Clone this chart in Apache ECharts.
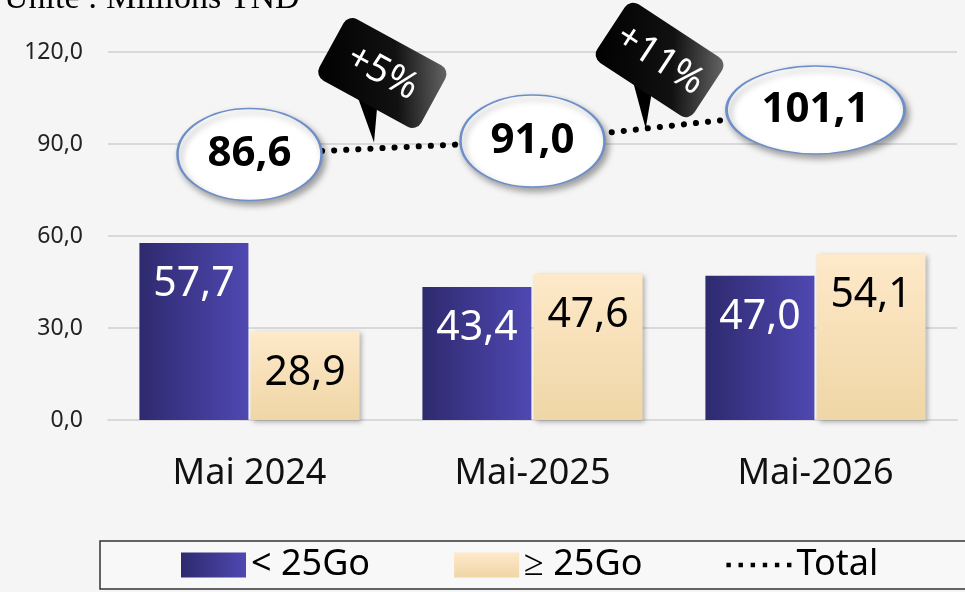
<!DOCTYPE html>
<html>
<head>
<meta charset="utf-8">
<script src="https://cdn.jsdelivr.net/npm/echarts@6/dist/echarts.min.js"></script>
<style>
  html, body { margin: 0; padding: 0; background: #f5f5f5; }
  #main { width: 965px; height: 592px; }
</style>
</head>
<body>
<div id="main"></div>
<script>
// data
const categories = ['Mai 2024', 'Mai-2025', 'Mai-2026']
const smallPlans = [57.7, 43.4, 47.0]
const largePlans = [28.9, 47.6, 54.1]
const totals = [86.6, 91.0, 101.1]
const yTicks = [0, 30, 60, 90, 120]
const seriesNames = ['< 25Go', '≥ 25Go', 'Total']

const fmt = v => v.toFixed(1).replace('.', ',')
const growth = totals.slice(1).map((t, i) => '+' + Math.round((t / totals[i] - 1) * 100) + '%')

const font = 'Noto Sans'
const dots = 'path://M0,0h4v4h-4zM11,0h4v4h-4zM22,0h4v4h-4zM33,0h4v4h-4zM44,0h4v4h-4zM55,0h4v4h-4z'

const chart = echarts.init(document.getElementById('main'))

const option = {
  backgroundColor: '#f5f5f5',
  animation: false,
  grid: { left: 108, right: 8, top: 52, bottom: 172 },
  xAxis: {
    type: 'category',
    data: categories,
    axisTick: { show: false },
    axisLine: { lineStyle: { color: '#d9d9d9', width: 2 } },
    axisLabel: { fontFamily: font, fontSize: 36, color: '#111', margin: 36 }
  },
  yAxis: {
    type: 'value',
    min: yTicks[0],
    max: yTicks[yTicks.length - 1],
    interval: yTicks[1] - yTicks[0],
    axisLabel: { fontFamily: font, fontSize: 23, color: '#222', margin: 25, formatter: v => fmt(v) },
    splitLine: { lineStyle: { color: '#d9d9d9', width: 2 } }
  },
  legend: {
    left: 100,
    top: 541,
    width: 1000,
    data: [
      { name: seriesNames[0], icon: 'rect' },
      { name: seriesNames[1], icon: 'rect' },
      { name: seriesNames[2], icon: dots, itemStyle: { color: '#000', borderWidth: 0, shadowBlur: 0 } }
    ],
    itemWidth: 65,
    itemHeight: 25,
    itemGap: 84,
    padding: [6, 110, 6, 81],
    borderColor: '#333',
    borderWidth: 1.5,
    borderRadius: 0,
    backgroundColor: '#f8f8f8',
    selectedMode: false,
    textStyle: { fontFamily: font, fontSize: 36, color: '#000', lineHeight: 36 }
  },
  series: [
    {
      name: seriesNames[0],
      type: 'bar',
      data: smallPlans,
      barWidth: 109,
      barGap: '2%',
      itemStyle: {
        color: new echarts.graphic.LinearGradient(0, 0, 1, 0, [
          { offset: 0, color: '#2e2a6e' },
          { offset: 1, color: '#4f48b2' }
        ])
      },
      label: {
        show: true, position: 'insideTop', distance: 21,
        fontFamily: font, fontSize: 41, color: '#fff', formatter: p => fmt(p.value)
      }
    },
    {
      name: seriesNames[1],
      type: 'bar',
      data: largePlans,
      barWidth: 109,
      itemStyle: {
        color: new echarts.graphic.LinearGradient(0, 0, 0, 1, [
          { offset: 0, color: '#fee9c9' },
          { offset: 1, color: '#efd6a6' }
        ]),
        shadowBlur: 5, shadowOffsetX: 2, shadowOffsetY: 2, shadowColor: 'rgba(0,0,0,0.3)'
      },
      label: {
        show: true, position: 'insideTop', distance: 21,
        fontFamily: font, fontSize: 41, color: '#000', formatter: p => fmt(p.value)
      }
    },
    {
      name: seriesNames[2],
      type: 'line',
      data: totals,
      z: 5,
      symbol: 'circle',
      symbolSize: v => (v >= 100 ? [178, 88] : [144, 92]),
      lineStyle: { color: '#000', width: 6, type: [0.1, 12], cap: 'round' },
      itemStyle: {
        color: '#fff', borderColor: '#6d8ec8', borderWidth: 2,
        shadowBlur: 6, shadowOffsetX: 3, shadowOffsetY: 4, shadowColor: 'rgba(0,0,0,0.35)'
      },
      label: {
        show: true, position: 'inside',
        fontFamily: font, fontSize: 42, fontWeight: 'bold', color: '#000',
        formatter: p => fmt(p.value)
      }
    }
  ]
}

chart.setOption(option)

// black speech-bubble callouts sitting on the dotted total line
const spots = [
  { t: 0.44, dy: -6, rot: -0.5 },
  { t: 0.40, dy: 0, rot: -0.58 }
]
const bubbles = growth.map((txt, i) => {
  const a = chart.convertToPixel({ seriesIndex: 2 }, [i, totals[i]])
  const b = chart.convertToPixel({ seriesIndex: 2 }, [i + 1, totals[i + 1]])
  const s = spots[i]
  const x = a[0] + (b[0] - a[0]) * s.t
  const y = a[1] + (b[1] - a[1]) * s.t + s.dy
  const fill = {
    type: 'linear', x: 0, y: 1, x2: 1, y2: 0,
    colorStops: [
      { offset: 0, color: '#000' },
      { offset: 0.6, color: '#111' },
      { offset: 1, color: '#6a6a6a' }
    ]
  }
  return {
    type: 'group',
    x: x, y: y,
    rotation: s.rot,
    z: 100,
    children: [
      { type: 'polygon', shape: { points: [[-36, -32], [-14, -32], [0, 0]] }, style: { fill: '#000' } },
      { type: 'rect', shape: { x: -84, y: -100, width: 116, height: 70, r: 10 }, style: { fill: fill } },
      {
        type: 'text', x: -26, y: -65,
        style: {
          text: txt, fill: '#fff', font: '38px "Noto Sans"',
          align: 'center', verticalAlign: 'middle'
        }
      }
    ]
  }
})

chart.setOption({
  graphic: [
    {
      type: 'text', left: 4, top: -18, z: 100,
      style: { text: 'Unité : Millions TND', fill: '#000', font: '34px "Liberation Serif"' }
    }
  ].concat(bubbles)
})
</script>
</body>
</html>
